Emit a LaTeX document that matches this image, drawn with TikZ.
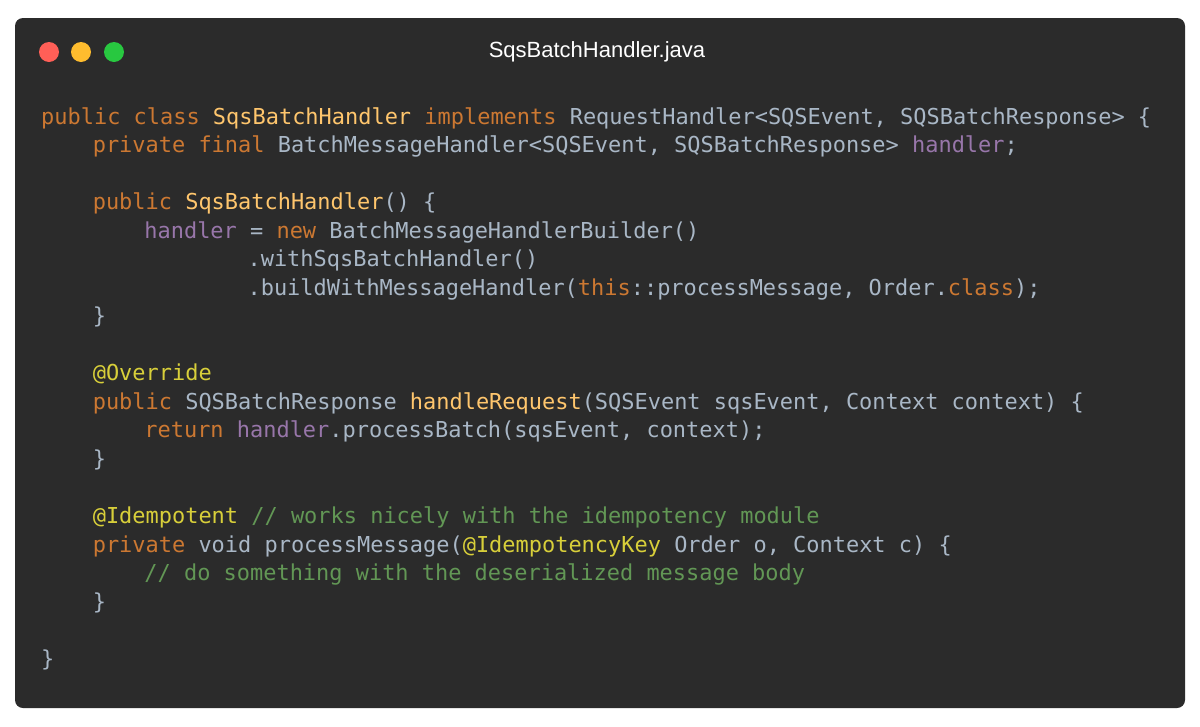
\documentclass[tikz,border=0pt]{standalone}
\usepackage{fontspec}
\setmainfont{Liberation Sans}
\newfontfamily\codefont{DejaVu Sans Mono}
\definecolor{winbg}{HTML}{2B2B2B}
\definecolor{kw}{HTML}{CC7832}
\definecolor{cls}{HTML}{FFC66D}
\definecolor{df}{HTML}{A9B7C6}
\definecolor{fld}{HTML}{9876AA}
\definecolor{ann}{HTML}{D8CF3A}
\definecolor{cmt}{HTML}{629755}
\definecolor{dotr}{HTML}{FF5F57}
\definecolor{doty}{HTML}{FEBC2E}
\definecolor{dotg}{HTML}{28C840}
\newcommand{\K}[1]{\textcolor{kw}{#1}}
\newcommand{\C}[1]{\textcolor{cls}{#1}}
\newcommand{\F}[1]{\textcolor{fld}{#1}}
\newcommand{\A}[1]{\textcolor{ann}{#1}}
\newcommand{\M}[1]{\textcolor{cmt}{#1}}
\tikzset{code/.style={anchor=base west,inner sep=0pt,text=df,font=\codefont\fontsize{21.95}{22}\selectfont}}
\begin{document}
\begin{tikzpicture}[x=1pt,y=-1pt]
\useasboundingbox (0,0) rectangle (1200,726);
\fill[white] (0,0) rectangle (1200,726);
\fill[winbg,rounded corners=8pt] (15,18) rectangle (1185,708);
\fill[dotr] (49,52) circle (10);
\fill[doty] (81,52) circle (10);
\fill[dotg] (114,52) circle (10);
\node[text=white,font=\fontsize{22}{22}\selectfont] (title) at (597,52) {SqsBatchHandler.java};
\def\cx#1{41+#1*12.9}
\node[code] (l1) at ({\cx{0}},124) {\K{public class }\C{SqsBatchHandler}\ \K{implements}\ RequestHandler<SQSEvent, SQSBatchResponse> \{};
\node[code] (l2) at ({\cx{4}},152) {\K{private final}\ BatchMessageHandler<SQSEvent, SQSBatchResponse> \F{handler};};
\node[code] (l3) at ({\cx{4}},209) {\K{public}\ \C{SqsBatchHandler}() \{};
\node[code] (l4) at ({\cx{8}},238) {\F{handler} = \K{new} BatchMessageHandlerBuilder()};
\node[code] (l5) at ({\cx{16}},266) {.withSqsBatchHandler()};
\node[code] (l6) at ({\cx{16}},295) {.buildWithMessageHandler(\K{this}::processMessage, Order.\K{class});};
\node[code] (l7) at ({\cx{4}},323) {\}};
\node[code] (l8) at ({\cx{4}},380) {\A{@Override}};
\node[code] (l9) at ({\cx{4}},409) {\K{public}\ SQSBatchResponse \C{handleRequest}(SQSEvent sqsEvent, Context context) \{};
\node[code] (l10) at ({\cx{8}},437) {\K{return}\ \F{handler}.processBatch(sqsEvent, context);};
\node[code] (l11) at ({\cx{4}},466) {\}};
\node[code] (l12) at ({\cx{4}},523) {\A{@Idempotent}\ \M{// works nicely with the idempotency module}};
\node[code] (l13) at ({\cx{4}},552) {\K{private}\ void processMessage(\A{@IdempotencyKey} Order o, Context c) \{};
\node[code] (l14) at ({\cx{8}},580) {\M{// do something with the deserialized message body}};
\node[code] (l15) at ({\cx{4}},609) {\}};
\node[code] (l16) at ({\cx{0}},666) {\}};
\end{tikzpicture}
\end{document}
